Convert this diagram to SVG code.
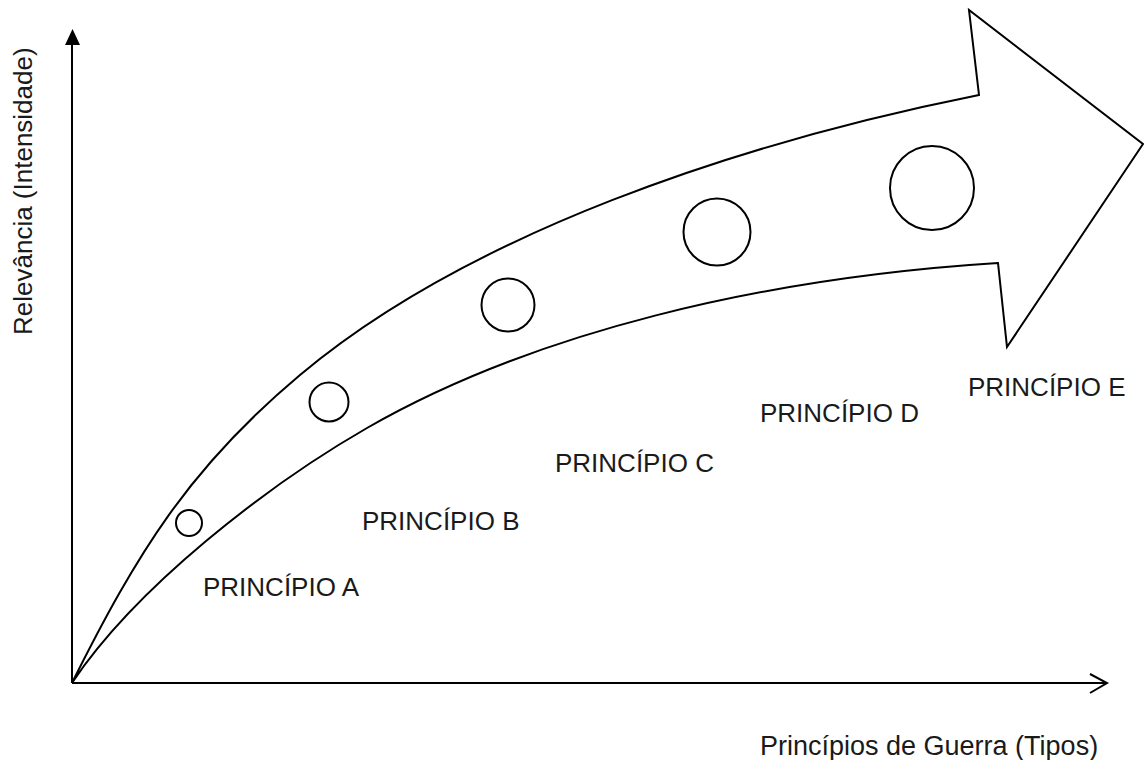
<svg xmlns="http://www.w3.org/2000/svg" width="1144" height="760" viewBox="0 0 1144 760">
<style>
.ln{fill:none;stroke:#000;stroke-width:2}
.c{fill:none;stroke:#000;stroke-width:2}
.t{font-family:"Liberation Sans",Arial,sans-serif;font-size:26px;fill:#1a1a1a}
</style>
<rect width="1144" height="760" fill="#fff"/>
<g id="connectors">
<line class="ln" x1="72" y1="683" x2="72" y2="42"/>
<polygon points="72.5,29 65,45 80,45" fill="#000"/>
<line class="ln" x1="72" y1="683" x2="1106" y2="683"/>
<polyline class="ln" points="1090,674 1107,683 1090,693" stroke-width="2.5"/>
</g>
<g id="trend-arrow">
<path class="ln" d="M72,683 C137,553 189,468 300,375 C468.5,233.5 739,143 979,95 L969,10 L1143,144 L1007,347 L998,263 C760,278 531.7,333.4 367,428 C267.3,485.3 135.8,587.3 72,683 Z"/>
</g>
<g id="circle-a"><circle class="c" cx="189" cy="523" r="13"/></g>
<g id="circle-b"><circle class="c" cx="329" cy="402" r="19.5"/></g>
<g id="circle-c"><circle class="c" cx="508" cy="305" r="26.5"/></g>
<g id="circle-d"><circle class="c" cx="717" cy="232" r="33.5"/></g>
<g id="circle-e"><circle class="c" cx="932" cy="188" r="42"/></g>
<g id="label-a"><text class="t" x="203" y="596">PRINCÍPIO A</text></g>
<g id="label-b"><text class="t" x="362" y="530">PRINCÍPIO B</text></g>
<g id="label-c"><text class="t" x="555" y="472">PRINCÍPIO C</text></g>
<g id="label-d"><text class="t" x="760" y="422">PRINCÍPIO D</text></g>
<g id="label-e"><text class="t" x="968" y="396">PRINCÍPIO E</text></g>
<g id="x-axis-label"><text class="t" x="760" y="755" style="font-size:27px">Princípios de Guerra (Tipos)</text></g>
<g id="y-axis-label"><text class="t" transform="translate(32,335) rotate(-90)">Relevância (Intensidade)</text></g>
</svg>
